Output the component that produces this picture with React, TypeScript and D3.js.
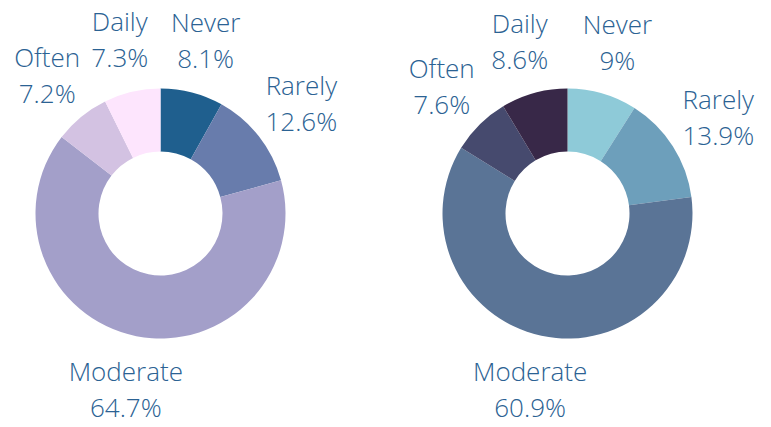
import React from "react";
import * as d3 from "d3";

const categories = ["Never", "Rarely", "Moderate", "Often", "Daily"];
const leftValues = [8.1, 12.6, 64.7, 7.2, 7.3];
const rightValues = [9, 13.9, 60.9, 7.6, 8.6];
const leftColors = ["#1f5f8e", "#687cac", "#a39fc9", "#d3c2e2", "#fde5fd"];
const rightColors = ["#8ecad8", "#6d9fbb", "#5a7496", "#464a6e", "#382848"];

const W = 771;
const H = 427;
const OUTER = 125;
const INNER = 62;
const LABEL_R = 179;
const LINE_H = 36;
const TEXT_COLOR = "#2b6293";

function Donut({ cx, cy, values, colors }: { cx: number; cy: number; values: number[]; colors: string[] }) {
  const data = categories.map((c, i) => ({ c, v: values[i] }));
  const pie = d3.pie<{ c: string; v: number }>().sort(null).value((d) => d.v);
  const arcs = pie(data);
  const arc = d3.arc<d3.PieArcDatum<{ c: string; v: number }>>().innerRadius(INNER).outerRadius(OUTER);
  const labelArc = d3.arc<d3.PieArcDatum<{ c: string; v: number }>>().innerRadius(LABEL_R).outerRadius(LABEL_R);
  return (
    <g transform={`translate(${cx},${cy})`}>
      {arcs.map((a, i) => (
        <path key={i} d={arc(a) || ""} fill={colors[i]} />
      ))}
      {arcs.map((a, i) => {
        const [x, y] = labelArc.centroid(a);
        return (
          <text
            key={"t" + i}
            x={x}
            y={y}
            textAnchor="middle"
            dominantBaseline="central"
            fill={TEXT_COLOR}
            fontFamily="'Open Sans', sans-serif"
            fontWeight={300}
            fontSize={26}
          >
            <tspan x={x} y={y - LINE_H / 2}>{a.data.c}</tspan>
            <tspan x={x} y={y + LINE_H / 2}>{a.data.v + "%"}</tspan>
          </text>
        );
      })}
    </g>
  );
}

export default function App() {
  return (
    <svg
      width={W}
      height={H}
      style={{ position: "absolute", left: 0, top: 0, display: "block", background: "#fff" }}
    >
      <Donut cx={160.5} cy={213.5} values={leftValues} colors={leftColors} />
      <Donut cx={567.5} cy={213.5} values={rightValues} colors={rightColors} />
    </svg>
  );
}
